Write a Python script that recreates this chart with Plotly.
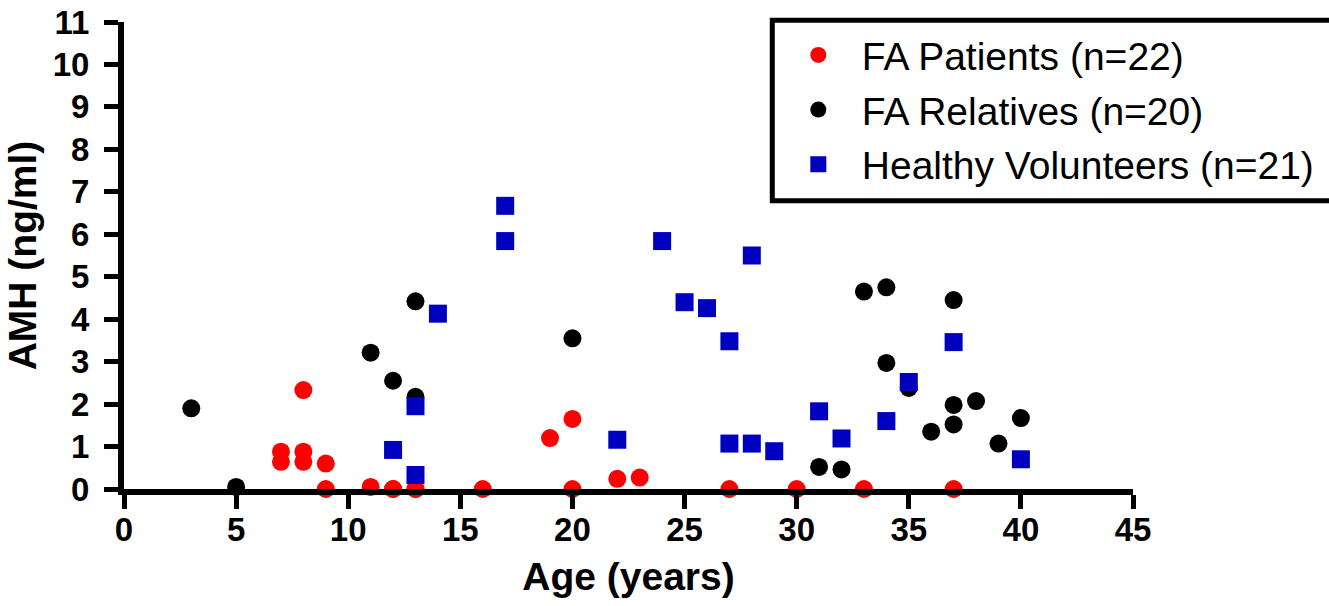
import plotly.graph_objects as go

# Age (years) and AMH (ng/ml) per group
patients_age = [7, 7, 8, 8, 8, 9, 9, 11, 12, 12, 13, 13, 16, 19, 20, 20, 22, 23, 27, 30, 33, 37]
patients_amh = [0.88, 0.64, 0.88, 0.64, 2.33, 0.6, 0, 0.05, 0, 0, 0, 0, 0, 1.2, 1.65, 0, 0.24, 0.27, 0, 0, 0, 0]

relatives_age = [3, 5, 11, 12, 13, 13, 20, 31, 32, 33, 34, 34, 35, 36, 37, 37, 37, 38, 39, 40]
relatives_amh = [1.9, 0.05, 3.21, 2.55, 4.42, 2.17, 3.55, 0.52, 0.46, 4.65, 4.75, 2.97, 2.38,
                 1.35, 4.45, 1.98, 1.52, 2.07, 1.07, 1.67]

volunteers_age = [12, 13, 13, 14, 17, 17, 22, 24, 25, 26, 27, 27, 28, 28, 29, 31, 32, 34, 35, 37, 40]
volunteers_amh = [0.92, 0.33, 1.95, 4.13, 6.67, 5.84, 1.16, 5.84, 4.4, 4.26, 3.48, 1.07, 5.5,
                  1.07, 0.89, 1.83, 1.19, 1.6, 2.52, 3.46, 0.7]

x_ticks = [0, 5, 10, 15, 20, 25, 30, 35, 40, 45]
y_ticks = list(range(0, 12))

FONT = "Liberation Sans, Arial, Helvetica, sans-serif"

groups = [
    ("FA Patients", patients_age, patients_amh, "circle", "#FF0000"),
    ("FA Relatives", relatives_age, relatives_amh, "circle", "#000000"),
    ("Healthy Volunteers", volunteers_age, volunteers_amh, "square", "#0000C0"),
]

fig = go.Figure()
for name, ages, amh, symbol, color in groups:
    fig.add_trace(go.Scatter(
        x=ages, y=amh, mode="markers",
        name=f"{name} (n={len(ages)})",
        legendgroup=name,
        marker=dict(symbol=symbol, size=18, color=color, line=dict(width=0)),
        cliponaxis=False,
    ))

axis_common = dict(
    showline=True, linecolor="black", linewidth=6,
    ticks="outside", ticklen=14, tickwidth=5, tickcolor="black",
    showgrid=False, zeroline=False,
    tickfont=dict(family=FONT, size=33, color="black", weight="bold"),
    title_font=dict(family=FONT, size=39, color="black", weight="bold"),
)

fig.update_xaxes(
    range=[0, 45], tickvals=x_ticks, ticktext=[str(v) for v in x_ticks],
    ticklabelstandoff=-8,
    title_text="Age (years)", title_standoff=18, **axis_common,
)
fig.update_yaxes(
    range=[0, 11], tickvals=y_ticks, ticktext=[str(v) for v in y_ticks],
    ticklabelstandoff=8,
    title_text="AMH (ng/ml)", title_standoff=6, **axis_common,
)

# Legend frame: runs past the right edge of the figure
fig.add_shape(
    type="rect", xref="paper", yref="paper",
    x0=0.6425, x1=1.22, y0=0.617, y1=1.0035,
    line=dict(color="black", width=5), fillcolor="white", layer="above",
)

fig.update_layout(
    width=1329, height=606,
    margin=dict(l=124, r=196, t=22, b=117, autoexpand=False),
    paper_bgcolor="white", plot_bgcolor="white",
    showlegend=True,
    legend=dict(
        x=0.645, y=0.9978, xanchor="left", yanchor="top",
        borderwidth=0, bgcolor="rgba(0,0,0,0)",
        font=dict(family=FONT, size=39, color="black"),
        tracegroupgap=1, itemsizing="trace", itemwidth=77,
    ),
)

fig.write_html("out.html")
